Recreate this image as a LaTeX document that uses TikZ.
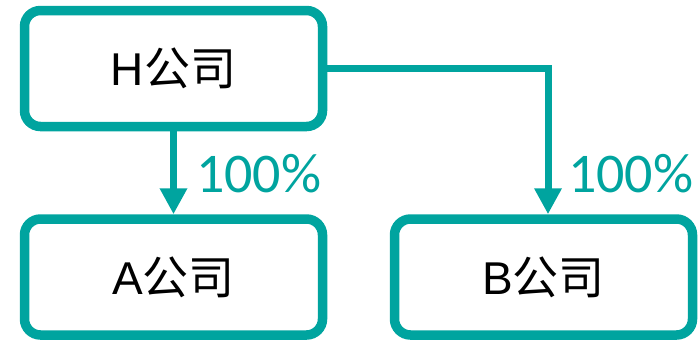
\documentclass[tikz,border=0pt]{standalone}
\usepackage{fontspec}
\setmainfont{Liberation Sans}
\newfontfamily\cjk{Noto Sans CJK SC}
\newfontfamily\lbl{Carlito}
\usetikzlibrary{arrows.meta,calc}
\definecolor{teal1}{HTML}{00A49F}
\begin{document}
\begin{tikzpicture}[x=1pt,y=-1pt,
  box/.style={draw=teal1,line width=9.5pt,rounded corners=16pt,fill=white,
    minimum width=298pt,minimum height=116pt,inner sep=0pt,
    font=\fontsize{46}{52}\selectfont,text=black},
  conn/.style={draw=teal1,line width=7pt,-{Triangle[width=26pt,length=26pt]}},
  pct/.style={text=teal1,font=\lbl\fontsize{56}{60}\selectfont,inner sep=0pt,anchor=base west}]
\useasboundingbox (0,0) rectangle (700,341);
\node[box] (H) at (173.5,68.5) {H{\cjk 公司}};
\node[box] (A) at (173.5,277) {A{\cjk 公司}};
\node[box] (B) at (543.5,277) {B{\cjk 公司}};
\draw[conn] (H.south) -- (A.north);
\draw[conn] (H.east) -| ($(B.north)+(4.5,0)$);
\node[pct] (p1) at (196,192) {100\%};
\node[pct] (p2) at (568,192) {100\%};
\end{tikzpicture}
\end{document}
